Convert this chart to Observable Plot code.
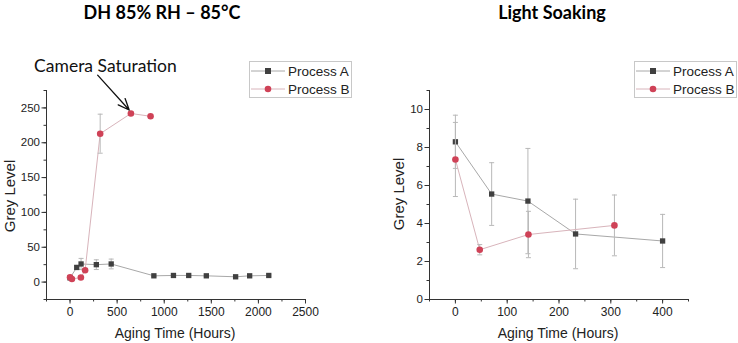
<!DOCTYPE html>
<html>
<head>
<meta charset="utf-8">
<script src="https://cdn.jsdelivr.net/npm/d3@7"></script>
<script src="https://cdn.jsdelivr.net/npm/@observablehq/plot@0.6"></script>
<style>
  html, body { margin: 0; padding: 0; background: #fff; }
  #wrap { position: relative; width: 738px; height: 343px; overflow: hidden; background: #fff; }
  .abs { position: absolute; white-space: nowrap; }
  .title { font-family: Lato, "Open Sans", sans-serif; font-weight: bold; font-size: 18px; color: #000; transform: translateX(-50%); }
  .xlab { font-family: "Liberation Sans", Arial, sans-serif; font-size: 14px; color: #222; transform: translate(-50%, -50%); }
  .ylab { font-family: "Liberation Sans", Arial, sans-serif; font-size: 15px; color: #222; transform: translate(-50%, -50%) rotate(-90deg); }
  .legend { border: 1px solid #c8c8c8; background: #fff; font-family: "Liberation Sans", Arial, sans-serif; font-size: 13.5px; color: #222; box-sizing: border-box; }
  .legend .row { display: flex; align-items: center; height: 18px; }
  .legend svg { display: block; margin: 0 2px 0 0; }
</style>
</head>
<body>
<div id="wrap"></div>
<script>
// ---------- Data: DH 85% RH – 85°C ----------
const dhHoursA = [0, 71, 117, 279, 437, 890, 1098, 1260, 1447, 1758, 1907, 2110];
const dhGreyA  = [6, 21, 26, 25, 26, 9, 9.5, 9.5, 9, 7.6, 9, 9.5];
const dhErrA   = [1.5, 3, 8, 7, 7, 1, 1, 1, 1, 1, 1, 1];
const dhHoursB = [0, 20, 115, 160, 320, 646, 855];
const dhGreyB  = [7, 4.5, 6.5, 17, 213, 242, 238];
const dhErrB   = [1.5, 1.5, 1.5, 2, 28, 2, 2];

// ---------- Data: Light Soaking ----------
const lsHoursA = [0, 70, 140, 232, 400];
const lsGreyA  = [8.3, 5.55, 5.18, 3.45, 3.08];
const lsErrA   = [1.4, 1.65, 2.77, 1.83, 1.4];
const lsHoursB = [0, 47, 141, 307];
const lsGreyB  = [7.37, 2.62, 3.42, 3.9];
const lsErrB   = [1.95, 0.27, 1.22, 1.6];

const seriesNames = ["Process A", "Process B"];
const chartTitles = ["DH 85% RH – 85°C", "Light Soaking"];
const xTitle = "Aging Time (Hours)";
const yTitle = "Grey Level";
const annotationText = "Camera Saturation";

// ---------- Styles ----------
const colA = "#404040", colB = "#cf4257";
const lineA = "#a8a8a8", lineB = "#d8b4bb";
const errCol = "#b8b8b8";

const capSymbol = { draw(ctx, size) { const r = Math.sqrt(size / Math.PI); ctx.moveTo(-r, 0); ctx.lineTo(r, 0); } };

function rows(xs, ys, es) { return xs.map((x, i) => ({x, y: ys[i], e: es[i]})); }

function seriesMarks(data, lineCol, markCol, symbol) {
  return [
    Plot.line(data, {x: "x", y: "y", stroke: lineCol, strokeWidth: 1}),
    Plot.ruleX(data, {x: "x", y1: d => d.y - d.e, y2: d => d.y + d.e, stroke: errCol, strokeWidth: 1}),
    Plot.dot(data, {x: "x", y: d => d.y - d.e, symbol: capSymbol, r: 2.5, stroke: errCol, strokeWidth: 1, fill: "none"}),
    Plot.dot(data, {x: "x", y: d => d.y + d.e, symbol: capSymbol, r: 2.5, stroke: errCol, strokeWidth: 1, fill: "none"}),
    Plot.dot(data, {x: "x", y: "y", symbol, r: symbol === "square" ? 3 : 3.3, fill: markCol, stroke: "none"})
  ];
}

const fmt = d => String(d);
function axesMarks(xDom, yDom, xMaj, xMin, yMaj, yMin) {
  return [
    Plot.axisX(xMin, {tickSize: 2.5, tickFormat: () => "", stroke: "#333", label: null}),
    Plot.axisY(yMin, {tickSize: 2.5, tickFormat: () => "", stroke: "#333", label: null}),
    Plot.axisX(xMaj, {tickSize: 4.5, tickPadding: 3, fontSize: 12, fill: "#222", stroke: "#333", label: null, tickFormat: fmt}),
    Plot.axisY(yMaj, {tickSize: 4.5, tickPadding: 2, fontSize: 11.5, fill: "#222", stroke: "#333", label: null, tickFormat: fmt}),
    Plot.ruleY([yDom[0]], {stroke: "#333", strokeWidth: 1}),
    Plot.ruleX([xDom[0]], {stroke: "#333", strokeWidth: 1})
  ];
}

const wrap = document.getElementById("wrap");

// Left chart
const dhA = rows(dhHoursA, dhGreyA, dhErrA);
const dhB = rows(dhHoursB, dhGreyB, dhErrB);
const leftX = [-250, 2500], leftY = [-25, 275];
const left = Plot.plot({
  width: 369, height: 343,
  marginLeft: 46, marginRight: 64, marginTop: 90, marginBottom: 44,
  style: {fontFamily: "'Liberation Sans', Arial, sans-serif", background: "transparent", overflow: "visible"},
  x: {domain: leftX, label: null}, y: {domain: leftY, label: null},
  marks: [
    ...axesMarks(leftX, leftY, d3.range(0, 2501, 500), d3.range(-250, 2501, 250), d3.range(0, 251, 50), d3.range(-25, 276, 25)),
    ...seriesMarks(dhA, lineA, colA, "square"),
    ...seriesMarks(dhB, lineB, colB, "circle"),
    Plot.arrow([{x1: 293, y1: 297, x2: 628, y2: 247}], {x1: "x1", y1: "y1", x2: "x2", y2: "y2", stroke: "#111", strokeWidth: 1.3, headLength: 14, headAngle: 45}),
    Plot.text([annotationText], {x: 376, y: 309, text: d => d, fontSize: 17.5, fontFamily: "Lato, 'Open Sans', sans-serif", fill: "#111"})
  ]
});
left.style.position = "absolute"; left.style.left = "0px"; left.style.top = "0px";
wrap.appendChild(left);

// Right chart
const lsA = rows(lsHoursA, lsGreyA, lsErrA);
const lsB = rows(lsHoursB, lsGreyB, lsErrB);
const rightX = [-50, 450], rightY = [0, 11];
const right = Plot.plot({
  width: 368, height: 343,
  marginLeft: 59, marginRight: 50, marginTop: 90, marginBottom: 44,
  style: {fontFamily: "'Liberation Sans', Arial, sans-serif", background: "transparent", overflow: "visible"},
  x: {domain: rightX, label: null}, y: {domain: rightY, label: null},
  marks: [
    ...axesMarks(rightX, rightY, d3.range(0, 401, 100), d3.range(-50, 451, 50), d3.range(0, 11, 2), d3.range(0, 12, 1)),
    ...seriesMarks(lsA, lineA, colA, "square"),
    ...seriesMarks(lsB, lineB, colB, "circle")
  ]
});
right.style.position = "absolute"; right.style.left = "370px"; right.style.top = "0px";
wrap.appendChild(right);

// Titles & axis titles
function addDiv(cls, text, x, y) {
  const d = document.createElement("div");
  d.className = "abs " + cls; d.textContent = text;
  d.style.left = x + "px"; d.style.top = y + "px";
  wrap.appendChild(d); return d;
}
addDiv("title", chartTitles[0], 162, 1);
addDiv("title", chartTitles[1], 552, 1);
addDiv("xlab", xTitle, 175, 333);
addDiv("xlab", xTitle, 558, 333);
addDiv("ylab", yTitle, 8.5, 196);
addDiv("ylab", yTitle, 397.5, 194);

// Legends
function legend(x, y) {
  const box = document.createElement("div");
  box.className = "abs legend";
  box.style.left = x + "px"; box.style.top = y + "px";
  box.style.width = "103px"; box.style.height = "37px"; box.style.padding = "0";
  seriesNames.forEach((name, i) => {
    const row = document.createElement("div"); row.className = "row";
    const col = i === 0 ? colA : colB, lc = i === 0 ? lineA : lineB;
    const mark = i === 0
      ? `<rect x="15" y="6" width="6" height="6" fill="${col}"/>`
      : `<circle cx="18" cy="9" r="3.3" fill="${col}"/>`;
    row.innerHTML = `<svg width="36" height="18"><line x1="1" x2="35" y1="9" y2="9" stroke="${lc}" stroke-width="1"/>${mark}</svg><span>${name}</span>`;
    box.appendChild(row);
  });
  wrap.appendChild(box);
}
legend(249, 61);
legend(634, 61);
</script>
</body>
</html>
